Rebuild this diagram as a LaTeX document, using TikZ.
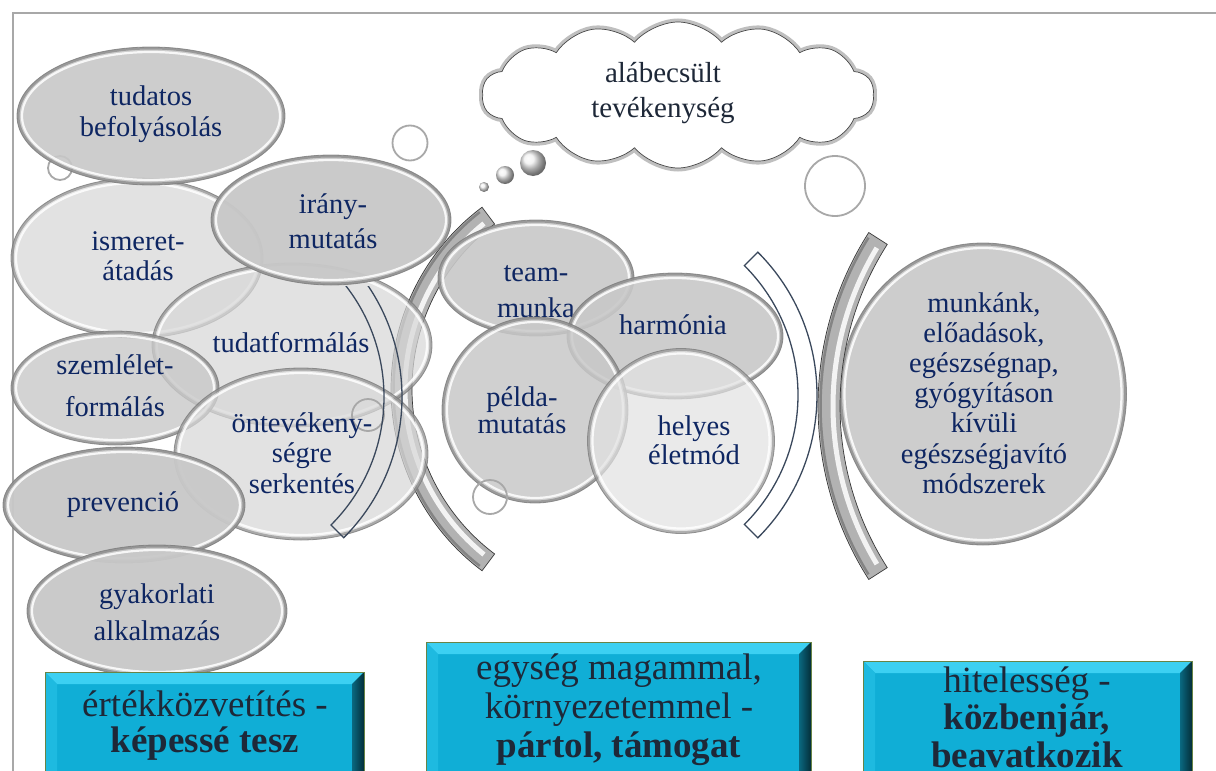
\documentclass[tikz,border=0pt]{standalone}
\usepackage{fontspec}
\setmainfont{Liberation Serif}
\usetikzlibrary{shapes.geometric,shapes.symbols,calc}
\definecolor{navy}{RGB}{14,38,98}
\definecolor{darktxt}{RGB}{30,40,56}
\definecolor{elldark}{RGB}{200,200,200}
\definecolor{elllight}{RGB}{216,216,216}
\definecolor{ellpale}{RGB}{226,226,226}
\definecolor{rim}{RGB}{120,120,120}
\definecolor{framegray}{RGB}{168,168,168}
\definecolor{boxcyan}{RGB}{16,174,214}
\definecolor{boxtop}{RGB}{60,208,242}
\definecolor{boxleft}{RGB}{30,186,224}
\definecolor{boxright}{RGB}{8,92,114}
\definecolor{boxline}{RGB}{104,132,70}
\definecolor{bracketline}{RGB}{58,72,92}
\definecolor{brgray}{RGB}{178,178,178}
\tikzset{
  bevel ring/.style={path picture={
    \draw[black, draw opacity=0.25, line width=5pt]
      let \p1=(path picture bounding box.north east), \p2=(path picture bounding box.center)
      in (\p2) ellipse [x radius={\x1-\x2}, y radius={\y1-\y2}];
    \draw[white, draw opacity=0.85, line width=2.2pt]
      let \p1=(path picture bounding box.north east), \p2=(path picture bounding box.center)
      in (\p2) ellipse [x radius={\x1-\x2-5pt}, y radius={\y1-\y2-5pt}];
  }},
  ell/.style={ellipse, inner sep=0pt, outer sep=0pt, draw=rim, draw opacity=0.75, line width=0.8pt, fill=#1, fill opacity=0.9, bevel ring},
  ellight/.style={ell=#1, fill opacity=0.72},
  lbl/.style={text=navy, align=center, inner sep=0pt, font=\fontsize{28.5}{#1}\selectfont},
  lbl/.default=30.5,
  boxtxt/.style={text=darktxt, align=center, inner sep=0pt, font=\fontsize{37}{#1}\selectfont},
  boxnode/.style={rectangle, inner sep=0pt, outer sep=0pt, fill=boxcyan, draw=boxline, line width=1pt, anchor=north west},
  thickbr/.style={fill=brgray, draw=gray!45!black, line width=0.7pt},
  thinbr/.style={draw=bracketline, line width=1.3pt},
  ocircle/.style={draw=framegray, line width=1.8pt},
}
\newcommand\boxbevel[1]{%
  \fill[boxtop] (#1.north west) -- (#1.north east) -- ([shift={(-12pt,-12pt)}]#1.north east) -- ([shift={(12pt,-12pt)}]#1.north west) -- cycle;
  \fill[boxleft] (#1.north west) -- ([shift={(12pt,-12pt)}]#1.north west) -- ([xshift=12pt]#1.south west) -- (#1.south west) -- cycle;
  \shade[left color=boxcyan!60!black, right color=boxright!50!black] (#1.north east) -- ([shift={(-12pt,-12pt)}]#1.north east) -- ([xshift=-12pt]#1.south east) -- (#1.south east) -- cycle;
  \draw[boxline, line width=1pt] (#1.north west) rectangle (#1.south east);
}
\begin{document}
\begin{tikzpicture}[x=1pt,y=-1pt]
\useasboundingbox (0,0) rectangle (1216,771);
\clip (0,0) rectangle (1216,771);
\fill[white] (0,0) rectangle (1216,771);
% frame
\draw[framegray, line width=1.5pt] (13,771) -- (13,13) -- (1216,13);

% thick middle bracket
\coordinate (mbc) at (618,389);
\draw[thickbr] (mbc) ++(126.8:227) arc[start angle=126.8, end angle=233.2, radius=227] -- ++(233.2:-21) arc[start angle=233.2, end angle=126.8, radius=206] -- cycle;
\draw[gray!60!black, draw opacity=0.45, line width=2.5pt] (mbc) ++(128:224.5) arc[start angle=128, end angle=232, radius=224.5];
\draw[white, draw opacity=0.85, line width=5pt] (mbc) ++(129:213) arc[start angle=129, end angle=231, radius=213];

% left group
\draw[ocircle] (60,168) circle (12);
\node[ellight=elllight, minimum width=252, minimum height=160] (ism) at (137,258) {};
\node[ell=elldark, minimum width=268, minimum height=138] (tud) at (151,116) {};
\node[ellight=elllight, minimum width=280, minimum height=164] (tform) at (292,345) {};
\node[ell=elldark, fill opacity=0.8, minimum width=208, minimum height=114] (szem) at (115,388) {};
\node[ellight=elllight, minimum width=254, minimum height=172] (ont) at (301,454) {};
\draw[ocircle] (368,415) circle (16);
\coordinate (lbc) at (203,397);
\begin{scope}
\clip (0,286) rectangle (500,771);
\draw[thinbr] (lbc) ++(-45:181) arc[start angle=-45, end angle=45, radius=181] -- ++(45:18) arc[start angle=45, end angle=-45, radius=199] -- cycle;
\end{scope}
\node[ell=elldark, fill opacity=0.96, minimum width=240, minimum height=130] (ir) at (331,220) {};
\node[ell=elldark, fill opacity=0.95, minimum width=242, minimum height=116] (prev) at (124,505) {};
\node[ell=elldark, fill opacity=0.95, minimum width=260, minimum height=132] (gyak) at (157,611) {};

\node[lbl] (tudT) at (151,114) {tudatos\\befolyásolás};
\node[lbl] (ismT) at (138,256) {ismeret-\\átadás};
\node[lbl=35] (irT) at (333,221) {irány-\\mutatás};
\node[lbl] (tformT) at (291,343) {tudatformálás};
\node[lbl=42] (szemT) at (115,386) {szemlélet-\\formálás};
\node[lbl] (ontT) at (302,453) {öntevékeny-\\ségre\\serkentés};
\node[lbl] (prevT) at (123,505) {prevenció};
\node[lbl=37] (gyakT) at (157,612) {gyakorlati\\alkalmazás};

% middle group
\draw[ocircle] (410,143) circle (17.5);
\node[ell=elldark, minimum width=196, minimum height=116] (team) at (536,278) {};
\node[lbl=36] (teamT) at (536,292) {team-\\munka};
\node[ell=elldark, minimum width=216, minimum height=126] (harm) at (675,336) {};
\node[lbl] (harmT) at (673,325) {harmónia};
\node[ell=elldark, fill opacity=0.85, minimum width=186, minimum height=186] (pelda) at (535,410) {};
\node[lbl=27] (peldaT) at (522,410) {példa-\\mutatás};
\node[ellight=ellpale, minimum width=187, minimum height=185] (helyes) at (681,441) {};
\node[lbl=29] (helyesT) at (694,440) {helyes\\életmód};
\draw[ocircle] (490,497) circle (17);
\coordinate (rbc) at (615,395);
\draw[thinbr] (rbc) ++(-45:183) arc[start angle=-45, end angle=45, radius=183] -- ++(45:19) arc[start angle=45, end angle=-45, radius=202] -- cycle;

% right group
\node[ell=elldark, minimum width=287, minimum height=302] (right) at (983,394) {};
\node[lbl=30.2] (rightT) at (984,393) {munkánk,\\előadások,\\egészségnap,\\gyógyításon\\kívüli\\egészségjavító\\módszerek};
\coordinate (tbc) at (1140,406);
\draw[thickbr] (tbc) ++(147.4:322) arc[start angle=147.4, end angle=212.6, radius=322] -- ++(212.6:-22) arc[start angle=212.6, end angle=147.4, radius=300] -- cycle;
\draw[gray!60!black, draw opacity=0.45, line width=2.5pt] (tbc) ++(148.2:319.5) arc[start angle=148.2, end angle=211.8, radius=319.5];
\draw[white, draw opacity=0.85, line width=5pt] (tbc) ++(149:307) arc[start angle=149, end angle=211, radius=307];

% cloud
\node[cloud, cloud puffs=14, cloud puff arc=100, cloud ignores aspect, minimum width=392, minimum height=146, inner sep=0pt, fill=white, draw=gray!55!black, line width=0.7pt, preaction={draw=gray!50, line width=7pt}] (cloud) at (678,95) {};
\node[text=darktxt, align=center, inner sep=0pt, font=\fontsize{29}{35}\selectfont] (cloudT) at (663,93) {alábecsült\\tevékenység};
\shade[ball color=gray!12] (533,163) circle (13);
\shade[ball color=gray!12] (505,175) circle (9);
\shade[ball color=gray!12] (484,187) circle (5);
\draw[ocircle] (835,186) circle (30);

% boxes
\node[boxnode, minimum width=319, minimum height=130] (b1) at (45,672) {};
\boxbevel{b1}
\node[boxtxt=36] (b1t) at (205,726) {értékközvetítés -\\\textbf{képessé tesz}};
\node[boxnode, minimum width=385, minimum height=160] (b2) at (426,642) {};
\boxbevel{b2}
\node[boxtxt=39] (b2t) at (619,710) {egység magammal,\\környezetemmel -\\\textbf{pártol, támogat}};
\node[boxnode, minimum width=329, minimum height=140] (b3) at (863,661) {};
\boxbevel{b3}
\node[boxtxt=37.5] (b3t) at (1027,717) {hitelesség -\\\textbf{közbenjár,}\\\textbf{beavatkozik}};
\end{tikzpicture}
\end{document}
